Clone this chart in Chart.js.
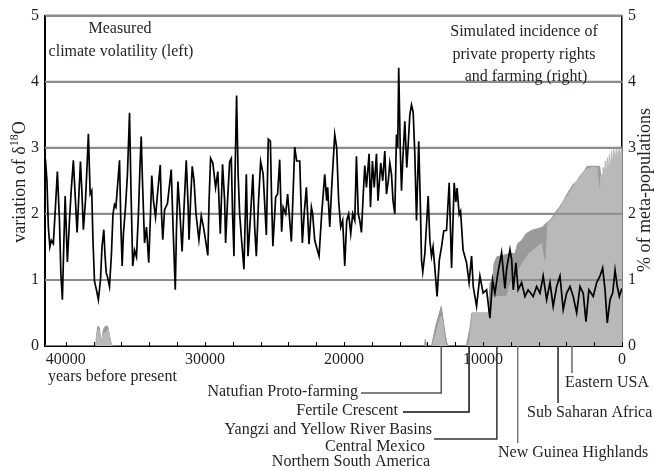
<!DOCTYPE html>
<html>
<head>
<meta charset="utf-8">
<script src="https://cdn.jsdelivr.net/npm/chart.js@4.4.1/dist/chart.umd.min.js"></script>
<style>
  html, body { margin: 0; padding: 0; background: #fff; }
  #wrap { width: 654px; height: 471px; }
</style>
</head>
<body>
<div id="wrap"><canvas id="chart"></canvas></div>
<script>
// measured climate volatility (left axis), years before present
const climateYears = [
  41470, 41360, 41260, 41150, 41040, 40900, 40750, 40610, 40460, 40360,
  40250, 40140, 40050, 39960, 39890, 39740, 39600, 39460, 39310, 39190,
  39060, 38950, 38840, 38740, 38590, 38480, 38380, 38250, 38140, 38050,
  37940, 37800, 37660, 37510, 37400, 37270, 37190, 37100, 37010, 36860,
  36720, 36610, 36500, 36400, 36290, 36140, 36040, 35950, 35860, 35710,
  35570, 35420, 35320, 35190, 35060, 34920, 34780, 34670, 34580, 34490,
  34340, 34200, 34040, 33910, 33820, 33700, 33550, 33410, 33210, 33120,
  33030, 32900, 32690, 32420, 32290, 32130, 32040, 31940, 31820, 31640,
  31500, 31340, 31210, 31140, 31030, 30910, 30780, 30640, 30430, 30260,
  30100, 29950, 29790, 29700, 29590, 29430, 29230, 29070, 28890, 28730,
  28580, 28510, 28370, 28220, 28100, 28010, 27910, 27830, 27720, 27610,
  27500, 27360, 27190, 27020, 26900, 26710, 26550, 26420, 26300, 26140,
  25990, 25810, 25580, 25440, 25290, 25200, 25110, 24910, 24770, 24620,
  24480, 24370, 24190, 24050, 23780, 23650, 23540, 23400, 23180, 23060,
  22990, 22860, 22700, 22510, 22340, 22250, 22100, 21790, 21600, 21380,
  21240, 21170, 21020, 20880, 20660, 20520, 20380, 20230, 20090, 19940,
  19800, 19660, 19510, 19370, 19220, 19100, 18970, 18860, 18740, 18610,
  18500, 18380, 18190, 18090, 17950, 17820, 17660, 17550, 17350, 17210,
  17060, 16940, 16810, 16700, 16580, 16470, 16340, 16220, 16130, 16060,
  15950, 15860, 15770, 15620, 15480, 15390, 15260, 15140, 15020, 14900,
  14780, 14620, 14510, 14420, 14330, 14180, 13940, 13820, 13700, 13590,
  13430, 13300, 13140, 12980, 12820, 12620, 12430, 12260, 12070, 11950,
  11860, 11710, 11610, 11430, 11180, 11000, 10820, 10700, 10460, 10220,
  9990, 9740, 9500, 9310, 9140, 8930, 8660, 8420, 8300, 8060,
  7940, 7820, 7630, 7470, 7220, 6980, 6750, 6390, 6140, 5900,
  5670, 5420, 5180, 4950, 4700, 4460, 4230, 3980, 3740, 3510,
  3260, 3020, 2790, 2590, 2380, 2070, 1820, 1580, 1390, 1220,
  1060, 860, 670, 500, 340, 190, 20
];
const climateValues = [
  2.83, 2.5, 1.8, 1.5, 1.6, 1.55, 2.1, 2.64, 1.9, 1.1,
  0.70, 1.6, 2.27, 1.7, 1.27, 1.9, 2.4, 2.81, 2.2, 1.72,
  2.3, 2.79, 2.3, 1.76, 2.2, 2.7, 3.21, 2.3, 2.35, 1.6,
  0.98, 0.85, 0.70, 1.0, 1.5, 1.76, 1.4, 1.11, 1.05, 0.9,
  1.4, 2.0, 2.14, 2.1, 2.4, 2.81, 1.8, 1.21, 1.7, 2.1,
  2.6, 3.53, 2.4, 1.21, 1.45, 1.35, 2.0, 2.7, 3.17, 2.5,
  1.56, 1.8, 1.26, 2.0, 2.58, 2.2, 1.95, 2.3, 2.74, 2.0,
  1.61, 2.06, 2.16, 2.67, 1.8, 0.85, 1.8, 2.49, 2.1, 1.43,
  2.1, 2.81, 2.14, 1.61, 2.2, 2.72, 2.5, 2.0, 1.61, 1.97,
  1.8, 1.6, 1.37, 2.2, 2.84, 2.77, 2.4, 2.64, 1.7, 2.75,
  2.2, 1.56, 2.2, 2.79, 2.84, 2.0, 1.36, 2.6, 3.79, 2.6,
  2.0, 1.6, 1.16, 2.6, 1.36, 2.0, 2.6, 1.8, 1.36, 2.2,
  2.79, 2.6, 1.68, 3.13, 3.1, 2.2, 1.51, 2.25, 2.3, 2.82,
  1.73, 2.1, 2.0, 2.3, 1.58, 2.35, 3.01, 2.8, 2.8, 2.0,
  1.56, 2.0, 2.4, 1.54, 2.1, 2.0, 1.6, 1.36, 2.0, 2.6,
  2.2, 2.4, 1.8, 2.4, 3.2, 3.0, 2.2, 1.8, 1.9, 1.21,
  1.9, 2.0, 1.7, 2.0, 1.9, 2.87, 2.0, 1.9, 1.72, 2.3,
  2.73, 2.4, 2.91, 2.1, 2.8, 2.4, 2.91, 2.2, 2.77, 2.5,
  2.95, 2.3, 2.5, 2.77, 2.6, 2.2, 2.0, 3.2, 3.0, 4.21,
  3.0, 2.35, 2.8, 3.4, 2.7, 3.0, 3.5, 3.65, 3.54, 2.9,
  1.9, 3.1, 2.2, 1.3, 1.12, 1.4, 2.27, 1.6, 1.36, 1.5,
  1.1, 0.75, 1.3, 1.5, 1.74, 1.75, 2.47, 1.18, 2.47, 2.18,
  2.39, 1.99, 2.04, 1.45, 1.26, 0.96, 1.36, 0.9, 0.6, 1.06,
  0.8, 0.85, 0.42, 1.0, 0.8, 1.1, 1.41, 0.87, 1.16, 1.46,
  1.31, 0.85, 1.26, 0.85, 0.96, 0.75, 0.85, 0.75, 0.9, 0.8,
  1.06, 0.7, 0.96, 0.6, 0.9, 1.06, 0.55, 0.8, 0.9, 0.75,
  0.5, 0.9, 0.8, 0.37, 0.85, 0.75, 0.96, 1.06, 1.18, 0.85,
  0.35, 0.7, 0.8, 1.15, 0.9, 0.75, 0.87
];

// simulated incidence (right axis), darker series
const darkYears = [
  41500, 37850, 37800, 37700, 37600, 37500, 37400, 37300, 37150, 37000,
  36900, 36800, 36700, 14200, 14150, 14050, 13700, 13600, 13400, 13200,
  13000, 12900, 12800, 12700, 12600, 12500, 11200, 11100, 10950, 10800,
  9600, 9500, 9300, 9200, 9000, 8000, 7700, 7500, 7200, 6900,
  6500, 6000, 5700, 5500, 5200, 5000, 4700, 4500, 4200, 4000,
  3800, 3500, 3200, 3000, 2700, 2500, 1600, 1500, 0
];
const darkValues = [
  0, 0, 0.15, 0.3, 0.28, 0.12, 0.1, 0.25, 0.3, 0.3,
  0.2, 0.08, 0, 0, 0.1, 0, 0, 0.1, 0.3, 0.45,
  0.6, 0.45, 0.3, 0.15, 0.05, 0, 0, 0.1, 0.25, 0.5,
  0.5, 0.95, 1.0, 1.25, 1.35, 1.4, 1.4, 1.55, 1.6, 1.7,
  1.75, 1.78, 1.8, 1.85, 1.9, 1.95, 2.05, 2.1, 2.2, 2.28,
  2.35, 2.45, 2.5, 2.58, 2.65, 2.72, 2.72, 2.5, 2.5
];

// simulated incidence (right axis), lighter series
const lightYears = [
  41500, 37800, 37750, 37650, 37550, 37450, 37350, 37250, 37100, 36950,
  36850, 36750, 36650, 13600, 13500, 13300, 13100, 13000, 12900, 12800,
  12700, 12600, 11050, 10950, 10850, 10750, 9400, 9300, 8300, 8100,
  7900, 7600, 7300, 7000, 6700, 6400, 6100, 5800, 5600, 5450,
  5350, 5100, 4900, 4600, 4400, 4200, 3900, 3700, 3400, 3100,
  2800, 2500, 2200, 1800, 1600, 1500, 1450, 1350, 1300, 1200,
  1150, 1050, 1000, 900, 850, 750, 700, 600, 500, 400,
  300, 200, 100, 0
];
const lightValues = [
  0, 0, 0.2, 0.25, 0.15, 0.05, 0.15, 0.2, 0.2, 0.25,
  0.15, 0.05, 0, 0, 0.1, 0.25, 0.4, 0.45, 0.35, 0.15,
  0.05, 0, 0, 0.1, 0.3, 0.5, 0.5, 0.75, 0.75, 0.9,
  1.0, 1.1, 1.2, 1.3, 1.4, 1.45, 1.5, 1.55, 1.3, 1.3,
  1.85, 1.9, 1.95, 2.05, 2.1, 2.2, 2.28, 2.35, 2.45, 2.55,
  2.62, 2.68, 2.7, 2.7, 2.3, 2.6, 2.3, 2.7, 2.4, 2.8,
  2.5, 2.85, 2.6, 2.9, 2.6, 2.95, 2.7, 3.0, 2.8, 3.0,
  2.85, 3.0, 2.9, 3.0
];

// events marked under the axis
const eventYears = [13000, 11000, 9000, 7500, 4600, 3600];
const eventLabels = [
  ['Natufian Proto-farming'],
  ['Fertile Crescent'],
  ['Yangzi and Yellow River Basins', 'Central Mexico', 'Northern South America'],
  ['New Guinea Highlands'],
  ['Sub Saharan Africa'],
  ['Eastern USA']
];

const xTicks = [0, 10000, 20000, 30000, 40000];
const yTicks = [0, 1, 2, 3, 4, 5];

const FONT = '"Liberation Serif", "Times New Roman", serif';
const TEXT = '#231f20';
const GRID = '#8c8c8c';

const toPoints = (xs, ys) => xs.map((x, i) => ({ x: x, y: ys[i] }));

const extras = {
  id: 'extras',
  beforeDatasetDraw(chart, args) {
    // grid lines sit over the grey areas but under the climate line
    if (args.index !== 0) return;
    const { ctx, chartArea, scales } = chart;
    ctx.save();
    ctx.strokeStyle = GRID;
    ctx.lineWidth = 2;
    yTicks.forEach(v => {
      if (v === 0) return;
      const py = scales.y.getPixelForValue(v);
      ctx.beginPath();
      ctx.moveTo(chartArea.left, py);
      ctx.lineTo(chartArea.right, py);
      ctx.stroke();
    });
    ctx.restore();
  },
  afterDraw(chart) {
    const { ctx, chartArea, scales } = chart;
    const x = scales.x;
    const bottom = chartArea.bottom;
    ctx.save();

    // small inside ticks every 2000 years
    ctx.strokeStyle = '#000';
    ctx.lineWidth = 1;
    for (let v = 0; v <= 40000; v += 2000) {
      const px = Math.round(x.getPixelForValue(v)) + 0.5;
      ctx.beginPath();
      ctx.moveTo(px, bottom);
      ctx.lineTo(px, bottom - 4);
      ctx.stroke();
    }

    ctx.fillStyle = TEXT;

    // left axis title with superscript
    ctx.save();
    ctx.translate(25, 182);
    ctx.rotate(-Math.PI / 2);
    ctx.textBaseline = 'alphabetic';
    ctx.textAlign = 'left';
    const big = '18px ' + FONT, small = '12px ' + FONT;
    ctx.font = big;
    const wa = ctx.measureText('variation of \u03b4').width;
    const wc = ctx.measureText('O').width;
    ctx.font = small;
    const wb = ctx.measureText('18').width;
    let x0 = -(wa + wb + wc) / 2;
    ctx.font = big;
    ctx.fillText('variation of \u03b4', x0, 0);
    ctx.font = small;
    ctx.fillText('18', x0 + wa, -7);
    ctx.font = big;
    ctx.fillText('O', x0 + wa + wb, 0);
    ctx.restore();

    // right axis title
    ctx.save();
    ctx.translate(650, 190);
    ctx.rotate(-Math.PI / 2);
    ctx.font = '18px ' + FONT;
    ctx.textAlign = 'center';
    ctx.textBaseline = 'alphabetic';
    ctx.fillText('% of meta-populations', 0, 0);
    ctx.restore();

    // notes inside the plot
    ctx.font = '16px ' + FONT;
    ctx.textBaseline = 'middle';
    ctx.textAlign = 'center';
    ctx.fillText('Measured', 120, 29);
    ctx.fillText('climate volatility (left)', 121, 52);
    ctx.fillText('Simulated incidence of', 524, 32);
    ctx.fillText('private property rights', 524, 55);
    ctx.fillText('and farming (right)', 526, 77);

    ctx.textAlign = 'left';
    ctx.fillText('years before present', 48, 377);

    // event markers
    const ex = eventYears.map(v => x.getPixelForValue(v));
    ctx.lineWidth = 1.5;

    // Natufian
    ctx.strokeStyle = '#555';
    ctx.beginPath();
    ctx.moveTo(361, 393); ctx.lineTo(ex[0], 393); ctx.lineTo(ex[0], bottom);
    ctx.stroke();
    ctx.textAlign = 'right';
    ctx.fillText(eventLabels[0][0], 358, 392);

    // Fertile Crescent
    ctx.strokeStyle = '#111';
    ctx.beginPath();
    ctx.moveTo(403, 412); ctx.lineTo(ex[1], 412); ctx.lineTo(ex[1], bottom);
    ctx.stroke();
    ctx.fillText(eventLabels[1][0], 398, 411);

    // Yangzi / Mexico / South America
    ctx.strokeStyle = '#333';
    ctx.beginPath();
    ctx.moveTo(434, 439); ctx.lineTo(ex[2], 439); ctx.lineTo(ex[2], bottom);
    ctx.stroke();
    ctx.fillText(eventLabels[2][0], 432, 430);
    ctx.fillText(eventLabels[2][1], 425, 447);
    ctx.fillText(eventLabels[2][2], 430, 462);

    // New Guinea
    ctx.strokeStyle = '#777';
    ctx.beginPath();
    ctx.moveTo(ex[3], bottom); ctx.lineTo(ex[3], 443);
    ctx.stroke();
    ctx.textAlign = 'left';
    ctx.fillText(eventLabels[3][0], 498, 453);

    // Sub Saharan Africa
    ctx.strokeStyle = '#222';
    ctx.beginPath();
    ctx.moveTo(ex[4], bottom); ctx.lineTo(ex[4], 403);
    ctx.stroke();
    ctx.fillText(eventLabels[4][0], 527, 413);

    // Eastern USA
    ctx.strokeStyle = '#666';
    ctx.beginPath();
    ctx.moveTo(ex[5], bottom); ctx.lineTo(ex[5], 373);
    ctx.stroke();
    ctx.fillText(eventLabels[5][0], 565, 383);

    ctx.restore();
  }
};

new Chart(document.getElementById('chart'), {
  type: 'line',
  data: {
    datasets: [
      {
        label: 'climate volatility',
        data: toPoints(climateYears, climateValues),
        yAxisID: 'y',
        borderColor: '#000',
        borderWidth: 1.7,
        pointRadius: 0,
        tension: 0,
        fill: false,
        order: 0
      },
      {
        label: 'incidence (light)',
        data: toPoints(lightYears, lightValues),
        yAxisID: 'y2',
        borderColor: '#b9b9b9',
        backgroundColor: '#b9b9b9',
        borderWidth: 1,
        pointRadius: 0,
        tension: 0,
        fill: 'origin',
        order: 1
      },
      {
        label: 'incidence (dark)',
        data: toPoints(darkYears, darkValues),
        yAxisID: 'y2',
        borderColor: '#9a9a9a',
        backgroundColor: '#9a9a9a',
        borderWidth: 1,
        pointRadius: 0,
        tension: 0,
        fill: 'origin',
        order: 2
      }
    ]
  },
  options: {
    responsive: true,
    maintainAspectRatio: false,
    animation: false,
    layout: { padding: { top: 15 } },
    plugins: {
      legend: { display: false },
      tooltip: { enabled: false }
    },
    scales: {
      x: {
        type: 'linear',
        reverse: true,
        min: 0,
        max: 41500,
        afterFit: s => { s.height = 125; },
        afterBuildTicks: s => { s.ticks = xTicks.map(v => ({ value: v })); },
        ticks: {
          autoSkip: false,
          maxRotation: 0,
          padding: 4,
          color: TEXT,
          font: { family: FONT, size: 16 },
          callback: v => String(v)
        },
        grid: { drawOnChartArea: false, drawTicks: false },
        border: { color: '#000', width: 2 }
      },
      y: {
        position: 'left',
        min: 0,
        max: 5,
        afterFit: s => { s.width = 45; },
        afterBuildTicks: s => { s.ticks = yTicks.map(v => ({ value: v })); },
        ticks: {
          padding: 6,
          color: TEXT,
          font: { family: FONT, size: 16 }
        },
        grid: {
          color: c => (c.tick && c.tick.value === 0) ? 'rgba(0,0,0,0)' : GRID,
          lineWidth: 2,
          drawTicks: false
        },
        border: { color: '#000', width: 2 }
      },
      y2: {
        position: 'right',
        min: 0,
        max: 5,
        afterFit: s => { s.width = 32; },
        afterBuildTicks: s => { s.ticks = yTicks.map(v => ({ value: v })); },
        ticks: {
          padding: 6,
          color: TEXT,
          font: { family: FONT, size: 16 }
        },
        grid: { drawOnChartArea: false, drawTicks: false },
        border: { color: '#000', width: 1.5 }
      }
    }
  },
  plugins: [extras]
});
</script>
</body>
</html>
